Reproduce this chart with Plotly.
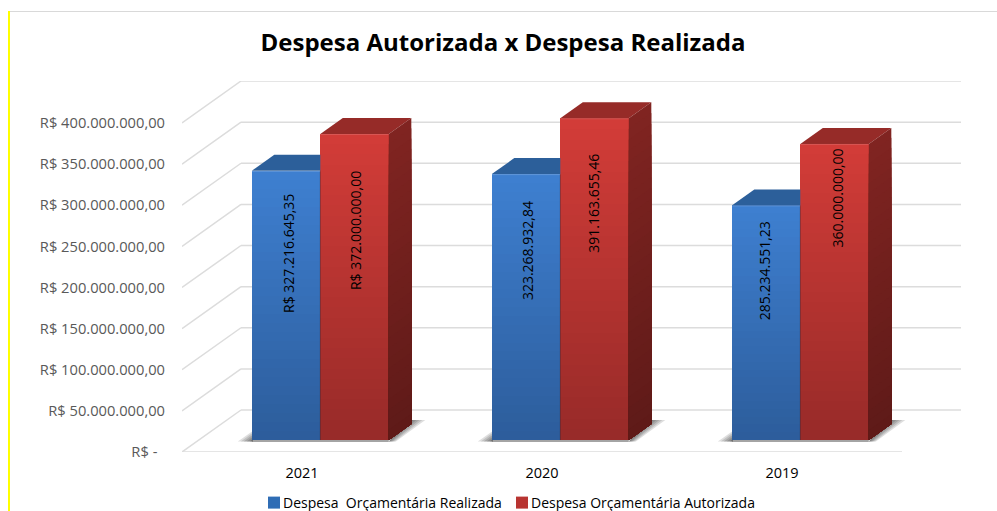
import plotly.graph_objects as go

# ---------- data ----------
years = ["2021", "2020", "2019"]
realizada = [327216645.35, 323268932.84, 285234551.23]
autorizada = [372000000.00, 391163655.46, 360000000.00]
labels_realizada = ["R$ 327.216.645,35", "323.268.932,84", "285.234.551,23"]
labels_autorizada = ["R$ 372.000.000,00", "391.163.655,46", "360.000.000,00"]
y_ticks = [0, 50e6, 100e6, 150e6, 200e6, 250e6, 300e6, 350e6, 400e6]
y_tick_labels = ["R$ -\u00a0\u00a0", "R$ 50.000.000,00", "R$ 100.000.000,00", "R$ 150.000.000,00",
                 "R$ 200.000.000,00", "R$ 250.000.000,00", "R$ 300.000.000,00",
                 "R$ 350.000.000,00", "R$ 400.000.000,00"]
series_names = ["Despesa\u00a0\u00a0Orçamentária Realizada", "Despesa Orçamentária Autorizada"]
title_text = "<b>Despesa Autorizada x Despesa Realizada</b>"

# ---------- scales: pixels per unit of the axes ----------
W, H = 997, 511
L, R_EDGE, T, B_EDGE = 182, 961, 81, 452
PX_CAT = 240.0
PX_VAL = 329.0 / 400e6
dx = lambda p: p / PX_CAT
dv = lambda p: p / PX_VAL
WALL_X, WALL_Y = dx(59), dv(42)        # wall depth
FRONT_X, FRONT_Y = dx(18.3), dv(12)    # bar front plane
DEPTH_X, DEPTH_Y = dx(22.5), dv(16)    # bar depth
BAR_W = dx(68.5)
centres = [i + 0.5 for i in range(len(years))]

paper_x = lambda p: (p - L) / (R_EDGE - L)
paper_y = lambda p: (B_EDGE - p) / (B_EDGE - T)


def lerp(c1, c2, t):
    return "rgb(%d,%d,%d)" % tuple(round(a + (b - a) * t) for a, b in zip(c1, c2))


BLUE_FRONT = ((62, 127, 208), (44, 92, 154))
BLUE_TOP = (44, 95, 154)
RED_FRONT = ((210, 60, 56), (150, 42, 40))
RED_TOP = (150, 43, 40)
RED_SIDE = ((128, 36, 33), (94, 26, 24))
N = 30

fig = go.Figure()
shapes = []

# gridlines: back wall + left wall diagonals
for v in y_ticks:
    shapes.append(dict(type="line", x0=0, y0=v, x1=WALL_X, y1=v + WALL_Y, layer="below",
                       line=dict(color="#DCDCDC", width=1.5)))
    shapes.append(dict(type="line", x0=WALL_X, y0=v + WALL_Y, x1=3 + WALL_X, y1=v + WALL_Y, layer="below",
                       line=dict(color="#DCDCDC", width=1.5)))
shapes.append(dict(type="line", x0=0, y0=0, x1=3, y1=0, layer="below",
                   line=dict(color="#DCDCDC", width=1.5)))

# floor shadows
for c in centres:
    xl = c + FRONT_X - BAR_W
    xr = c + FRONT_X + BAR_W
    for grow, alpha in ((14, 0.16), (11, 0.16), (8, 0.18), (5, 0.20), (2, 0.24)):
        path_l = "M %f,%f L %f,%f L %f,%f Z" % (
            xl + dx(1), FRONT_Y - dv(1.5), xl - dx(grow), FRONT_Y - dv(1.5), xl + dx(1), FRONT_Y + dv(grow * 0.65))
        shapes.append(dict(type="path", path=path_l, layer="below", line=dict(width=0),
                           fillcolor="rgba(50,50,50,%.2f)" % alpha))
        path_r = "M %f,%f L %f,%f L %f,%f L %f,%f Z" % (
            xr, FRONT_Y - dv(1.5), xr + DEPTH_X, FRONT_Y + DEPTH_Y + dv(4),
            xr + DEPTH_X + dx(grow), FRONT_Y + DEPTH_Y + dv(4), xr + dx(grow * 0.5), FRONT_Y - dv(1.5))
        shapes.append(dict(type="path", path=path_r, layer="below", line=dict(width=0),
                           fillcolor="rgba(50,50,50,%.2f)" % alpha))
    shapes.append(dict(type="line", x0=xl, x1=xr, y0=FRONT_Y - dv(1), y1=FRONT_Y - dv(1), layer="below",
                       line=dict(color="rgba(90,90,90,0.55)", width=2)))

# chart frame
shapes.append(dict(type="line", xref="paper", yref="paper", x0=paper_x(9), x1=paper_x(W),
                   y0=paper_y(11.5), y1=paper_y(11.5), line=dict(color="#D9D9D9", width=1)))
shapes.append(dict(type="line", xref="paper", yref="paper", x0=paper_x(9), x1=paper_x(9),
                   y0=paper_y(11), y1=paper_y(H), line=dict(color="#FFFF00", width=2)))

# front faces: layered bars, painted from the tallest to the shortest for the vertical gradient
for values, colors, offset, name, mid, lg in (
        (realizada, BLUE_FRONT, -BAR_W / 2, series_names[0], "#2F6DB5", "legend"),
        (autorizada, RED_FRONT, BAR_W / 2, series_names[1], "#B83431", "legend2")):
    xs = [c + FRONT_X + offset for c in centres]
    for k in range(N):
        t = k / N
        fig.add_trace(go.Bar(
            x=xs, y=[v * (1 - t) for v in values], base=[FRONT_Y] * 3, width=BAR_W,
            marker=dict(color=lerp(colors[0], colors[1], t), line=dict(width=0)),
            name=name, showlegend=False, hoverinfo="skip"))
    fig.add_trace(go.Bar(x=[None], y=[None], name=name, showlegend=True, legend=lg,
                         marker=dict(color=mid, line=dict(width=0))))


def poly(xs, ys, color):
    fig.add_trace(go.Scatter(x=xs, y=ys, mode="lines", fill="toself", fillcolor=color,
                             line=dict(width=0), showlegend=False, hoverinfo="skip"))


def edge(xs, ys, color):
    fig.add_trace(go.Scatter(x=xs, y=ys, mode="lines", showlegend=False, hoverinfo="skip",
                             line=dict(color=color, width=1)))


for c, vb, vr in zip(centres, realizada, autorizada):
    x0 = c + FRONT_X - BAR_W
    xm = c + FRONT_X
    x1 = c + FRONT_X + BAR_W
    # blue top (its back right part is hidden by the taller red bar)
    tb = vb + FRONT_Y
    poly([x0, xm, xm, x0 + DEPTH_X, x0], [tb, tb, tb + DEPTH_Y, tb + DEPTH_Y, tb], "rgb(%d,%d,%d)" % BLUE_TOP)
    # red top
    tr = vr + FRONT_Y
    poly([xm, x1, x1 + DEPTH_X, xm + DEPTH_X, xm], [tr, tr, tr + DEPTH_Y, tr + DEPTH_Y, tr], "rgb(%d,%d,%d)" % RED_TOP)
    # red side: layered for the gradient
    for k in range(N):
        t = k / N
        h = vr * (1 - t)
        poly([x1, x1 + DEPTH_X, x1 + DEPTH_X, x1, x1],
             [FRONT_Y, FRONT_Y + DEPTH_Y, FRONT_Y + DEPTH_Y + h, FRONT_Y + h, FRONT_Y],
             lerp(RED_SIDE[0], RED_SIDE[1], t))
    # bevel edges and the seam between the two bars
    edge([xm, xm], [FRONT_Y, tb], "rgba(40,40,60,0.40)")
    edge([x0, xm], [tb - dv(0.5), tb - dv(0.5)], "rgba(255,255,255,0.18)")
    edge([xm, x1], [tr - dv(0.5), tr - dv(0.5)], "rgba(255,255,255,0.14)")

# rotated value labels: offsets along each bar, in pixels
lift_realizada = [52, 56.5, 52]
lift_autorizada = [56.5, 76, 94]
nudge_realizada = [2.5, 1.5, -1.5]
nudge_autorizada = [1, -1, 3]
annotations = []
for i, c in enumerate(centres):
    annotations.append(dict(x=c + FRONT_X - BAR_W / 2 + dx(nudge_realizada[i]),
                            y=FRONT_Y + realizada[i] / 2 + dv(lift_realizada[i]),
                            text=labels_realizada[i], textangle=-90, showarrow=False,
                            font=dict(size=14, color="#000000")))
    annotations.append(dict(x=c + FRONT_X + BAR_W / 2 + dx(nudge_autorizada[i]),
                            y=FRONT_Y + autorizada[i] / 2 + dv(lift_autorizada[i]),
                            text=labels_autorizada[i], textangle=-90, showarrow=False,
                            font=dict(size=14, color="#000000")))

legend_common = dict(orientation="h", xanchor="left", y=paper_y(503), yanchor="middle",
                     itemclick=False, itemdoubleclick=False,
                     font=dict(size=14, color="#000000"), bgcolor="rgba(0,0,0,0)")

fig.update_layout(
    width=W, height=H, autosize=False,
    margin=dict(l=L, r=W - R_EDGE, t=T, b=H - B_EDGE, pad=0, autoexpand=False),
    paper_bgcolor="#FFFFFF", plot_bgcolor="rgba(0,0,0,0)",
    font=dict(family="Open Sans, sans-serif", color="#000000"),
    barmode="overlay", bargap=0,
    title=dict(text=title_text, x=503 / W, xanchor="center", y=1 - 43 / H, yanchor="middle",
               font=dict(size=24, color="#000000")),
    xaxis=dict(range=[0, 3 + WALL_X], tickmode="array", tickvals=centres, ticktext=years,
               showgrid=False, zeroline=False, showline=False, ticks="",
               ticklabelstandoff=10, tickfont=dict(size=14.5, color="#000000")),
    yaxis=dict(range=[0, 400e6 + WALL_Y], tickmode="array", tickvals=y_ticks, ticktext=y_tick_labels,
               showgrid=False, zeroline=False, showline=False, ticks="",
               ticklabelstandoff=16, tickfont=dict(size=14.7, color="#595959")),
    legend=dict(x=paper_x(243), **legend_common),
    legend2=dict(x=paper_x(491), **legend_common),
    shapes=shapes, annotations=annotations,
)

fig.write_html(
    "out.html",
    config={"displayModeBar": False},
    post_script="document.body.style.margin='0';document.documentElement.style.overflow='hidden';"
                "document.querySelectorAll('.legendsymbols').forEach(function(s){s.setAttribute('transform','translate(11,0)');});",
)
